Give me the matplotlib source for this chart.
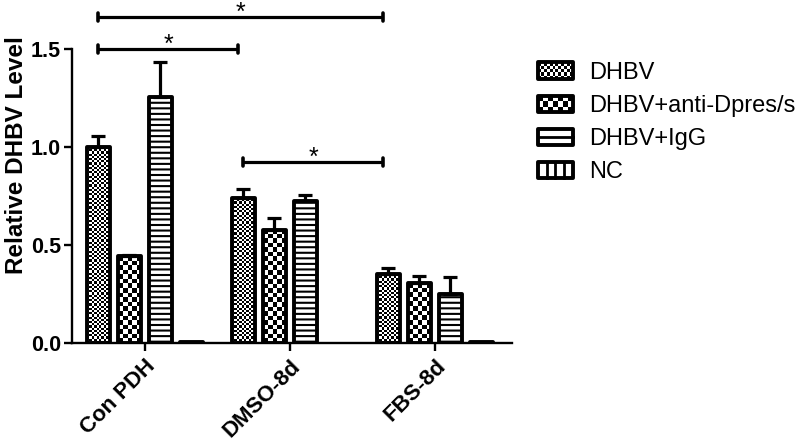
import numpy as np
import matplotlib
matplotlib.use('Agg')
import matplotlib.pyplot as plt
from matplotlib.patches import Rectangle
from matplotlib.lines import Line2D
from matplotlib.legend_handler import HandlerBase

plt.rcParams['font.family'] = ['Liberation Sans', 'DejaVu Sans']
plt.rcParams['hatch.linewidth'] = 1.5

# data
groups = ['Con PDH', 'DMSO-8d', 'FBS-8d']
series = ['DHBV', 'DHBV+anti-Dpres/s', 'DHBV+IgG', 'NC']
dhbv = [1.00, 0.74, 0.352]
dhbv_err = [0.055, 0.045, 0.031]
anti = [0.443, 0.577, 0.306]
anti_err = [0.008, 0.063, 0.036]
igg = [1.257, 0.726, 0.25]
igg_err = [0.175, 0.03, 0.088]
nc = [0.004, np.nan, 0.004]
nc_err = [0.0, 0.0, 0.0]

# significance brackets: (group a, group b, height)
brackets = [(0, 2, 1.663), (0, 1, 1.5), (1, 2, 0.923)]

values = [dhbv, anti, igg, nc]
errors = [dhbv_err, anti_err, igg_err, nc_err]
fills = ['fine', 'checker', 'hlines', 'vlines']

fig = plt.figure(figsize=(8, 4.45), dpi=100)
ax = fig.add_axes([72/800, 1-343/445, 440/800, 294/445])
ax.set_xlim(-0.503, 2.531)
ax.set_ylim(0, 1.5)

pitch = 0.2138
width = 0.159
x = np.arange(len(groups))


def checker(x0, x1, h, cell_px):
    p0 = ax.transData.transform((x0, 0))
    p1 = ax.transData.transform((x1, h))
    nx = max(1, int(round((p1[0]-p0[0])/cell_px)))
    ny = max(1, int(round((p1[1]-p0[1])/cell_px)))
    img = np.add.outer(np.arange(ny), np.arange(nx)) % 2
    ax.imshow(img, extent=(x0, x1, 0, h), origin='lower', cmap='gray',
              interpolation='nearest', aspect='auto', zorder=1)


for k, (vals, errs, kind) in enumerate(zip(values, errors, fills)):
    xs = x + (k-1.5)*pitch
    if kind == 'hlines':
        ax.bar(xs, vals, width, facecolor='white', edgecolor='black',
               hatch='---', linewidth=2.8, joinstyle='round', zorder=2)
    else:
        ax.bar(xs, vals, width, facecolor='none', edgecolor='black',
               linewidth=2.8, joinstyle='round', zorder=2)
        if kind in ('fine', 'checker'):
            for xi, v in zip(xs, vals):
                if not np.isnan(v) and v > 0:
                    checker(xi-width/2, xi+width/2, v, 2.2 if kind == 'fine' else 4.6)
    errs = np.array(errs)
    keep = errs > 0
    if keep.any():
        v = np.array(vals)[keep]
        ax.errorbar(xs[keep], v, yerr=[np.zeros(keep.sum()), errs[keep]], fmt='none',
                    ecolor='black', elinewidth=2.3, capsize=4.8, capthick=2.3, zorder=3)

ax.set_xlim(-0.503, 2.531)
ax.set_ylim(0, 1.5)

# brackets between DHBV bars
for a, b, y in brackets:
    xa = a - 1.5*pitch
    xb = b - 1.5*pitch - 0.04
    ax.plot([xa, xb], [y, y], color='black', lw=2.3, clip_on=False, solid_capstyle='butt')
    for xe in (xa, xb):
        ax.plot([xe, xe], [y-0.02, y+0.02], color='black', lw=2.6, clip_on=False,
                solid_capstyle='round')
    ax.text((xa+xb)/2, y - 0.014, '*', ha='center', va='baseline', fontsize=18,
            clip_on=False)

for s in ['top', 'right']:
    ax.spines[s].set_visible(False)
for s in ['left', 'bottom']:
    ax.spines[s].set_linewidth(1.7)

ax.set_yticks([0, 0.5, 1.0, 1.5], ['0.0', '0.5', '1.0', '1.5'], fontweight='bold', fontsize=15.5)
ax.set_xticks(x, groups, rotation=45, ha='right', rotation_mode='anchor',
              fontweight='bold', fontsize=16)
ax.tick_params(axis='both', length=6, width=1.7, direction='out')
ax.tick_params(axis='y', pad=2)
ax.tick_params(axis='x', pad=3)
ax.set_ylabel('Relative DHBV Level', fontweight='bold', fontsize=17.5)
ax.yaxis.set_label_coords(-0.1, 0.639)


class PatternHandler(HandlerBase):
    def __init__(self, kind):
        super().__init__()
        self.kind = kind

    def create_artists(self, legend, orig_handle, xdescent, ydescent, width, height, fontsize, trans):
        x0, y0 = -xdescent, -ydescent
        arts = [Rectangle((x0, y0), width, height, facecolor='white', edgecolor='none', transform=trans)]
        if self.kind in ('fine', 'checker'):
            nx, ny = (12, 5) if self.kind == 'fine' else (7, 3)
            cw, ch = width/nx, height/ny
            for i in range(nx):
                for j in range(ny):
                    if (i+j) % 2 == 0:
                        arts.append(Rectangle((x0+i*cw, y0+j*ch), cw, ch, facecolor='black',
                                              edgecolor='none', transform=trans))
        elif self.kind == 'hlines':
            arts.append(Line2D([x0, x0+width], [y0+height/2]*2, color='black', lw=2, transform=trans))
        else:
            for i in (1, 2, 3):
                xx = x0 + i*width/4
                arts.append(Line2D([xx, xx], [y0, y0+height], color='black', lw=2, transform=trans))
        arts.append(Rectangle((x0, y0), width, height, fill=False, edgecolor='black', lw=2.8,
                              joinstyle='round', transform=trans))
        return arts


handles = [Rectangle((0, 0), 1, 1) for _ in series]
hmap = {h: PatternHandler(kind) for h, kind in zip(handles, fills)}
fig.legend(handles, series, handler_map=hmap, loc='upper left',
           bbox_to_anchor=(538/800, 1-62/445), frameon=False, fontsize=17,
           handlelength=1.48, handleheight=0.7, handletextpad=0.7,
           labelspacing=0.47, borderpad=0, borderaxespad=0)

fig.savefig('out.png', dpi=100)
